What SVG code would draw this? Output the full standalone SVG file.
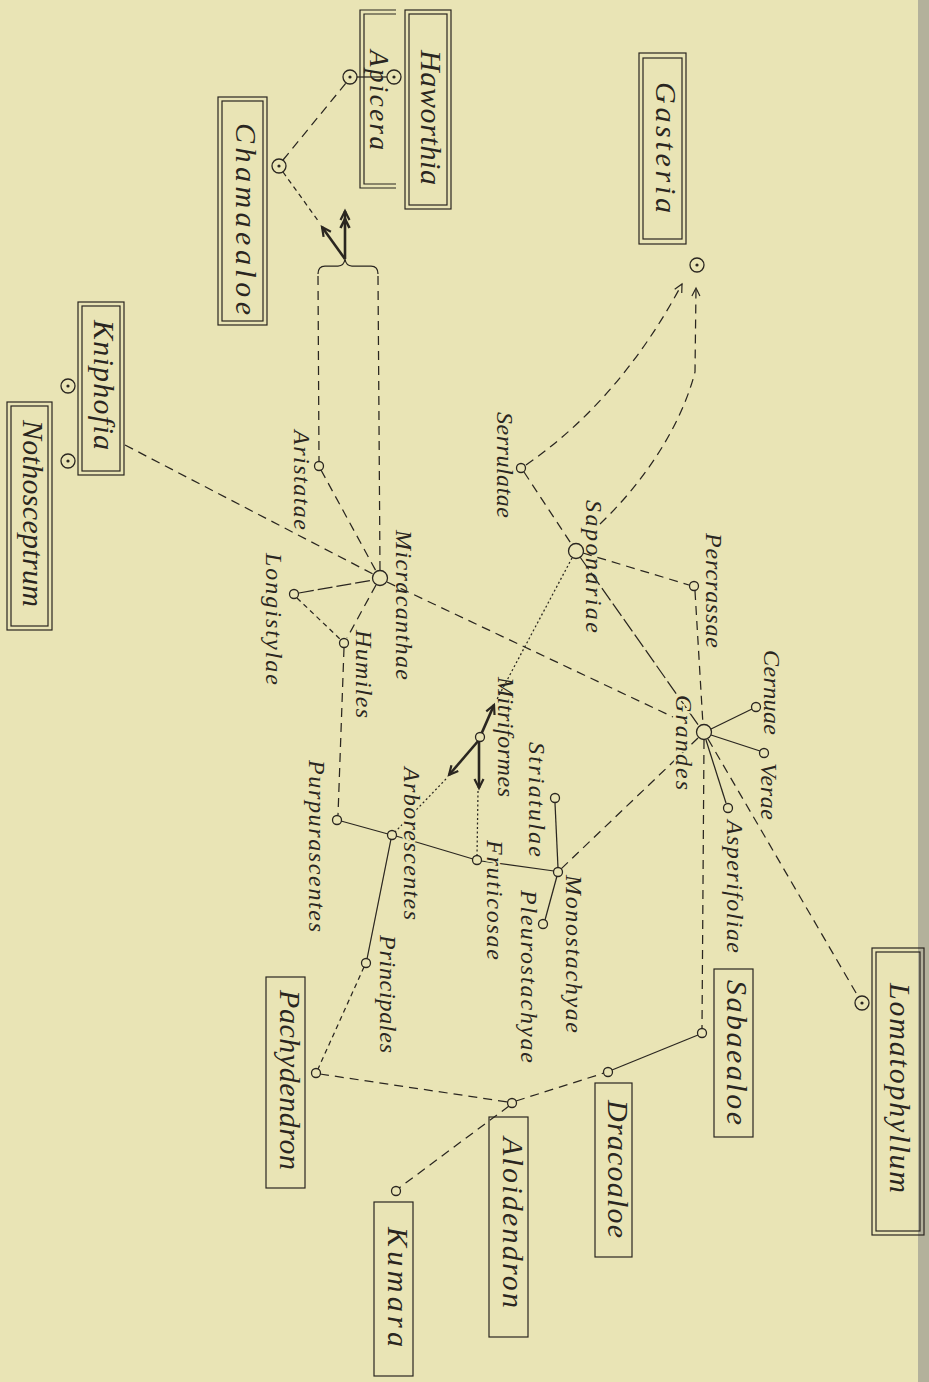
<svg xmlns="http://www.w3.org/2000/svg" width="929" height="1382" viewBox="0 0 929 1382">
<defs>
<style>
.bg{fill:#e9e4b5}
.ln{fill:none;stroke:#2a2620;stroke-width:1.25}
.d{stroke-dasharray:9 6}
.ds{stroke-dasharray:5 4}
.dl{stroke-dasharray:15 4}
.dt{stroke-dasharray:2 2.5}
.bold{fill:none;stroke:#2a2620;stroke-width:2.6}
.nc{fill:#e9e4b5;stroke:#2a2620;stroke-width:1.3}
.dot{fill:#2a2620}
.bx{fill:none;stroke:#2a2620;stroke-width:1.2}
.t{font-family:"Liberation Serif","Times New Roman",serif;font-style:italic;font-size:24px;fill:#2a2620}
.tb{font-family:"Liberation Serif","Times New Roman",serif;font-style:italic;font-size:30px;fill:#2a2620}
.halo{stroke:#e9e4b5;stroke-width:4;paint-order:stroke}
</style>
<marker id="ah" markerUnits="userSpaceOnUse" markerWidth="12" markerHeight="12" refX="9" refY="5" orient="auto"><path d="M1,1 L9,5 L1,9" fill="none" stroke="#2a2620" stroke-width="1.2"/></marker>
<marker id="ahb" markerUnits="userSpaceOnUse" markerWidth="14" markerHeight="14" refX="10" refY="6" orient="auto"><path d="M1,1.5 L10,6 L1,10.5" fill="none" stroke="#2a2620" stroke-width="2.2"/></marker>
</defs>
<rect class="bg" x="0" y="0" width="929" height="1382"/>
<rect x="918" y="0" width="11" height="1382" fill="#b3b19b"/>

<g id="connectors">
<path class="ln" d="M357,77 L387,77"/>
<path class="ln d" d="M283,160 L346,83"/>
<path class="ln ds" d="M283,172 L319,222"/>
<path class="bold" d="M345,259 L322,227" marker-end="url(#ahb)"/>
<path class="bold" d="M345,259 L345,211" marker-end="url(#ahb)"/>
<path class="bold" d="M340.5,228 L345,219 L349.5,228" stroke-width="2"/>
<path class="ln" d="M318,274 Q318,266 325,266 L338,266 Q344,266 345,259 Q346,266 352,266 L371,266 Q378,266 378,274"/>
<path class="ln d" d="M318,276 L319,461"/>
<path class="ln d" d="M378,276 L380,570"/>
<path class="ln d" d="M321,470 L376,571"/>
<path class="ln d" d="M125,445 L373,574"/>
<path class="ln dl" d="M299,593 L373,580"/>
<path class="ln d" d="M376,585 L347,638"/>
<path class="ln ds" d="M297,598 L341,640"/>
<path class="ln d" d="M344,648 L338,815"/>
<path class="ln d" d="M387,582 L673,717"/>
<path class="ln d" d="M524,472 L572,545"/>
<path class="ln d" d="M526,465 Q620,400 682,284" marker-end="url(#ah)"/>
<path class="ln d" d="M600,524 C640,486 680,430 695,372 L696,288" marker-end="url(#ah)"/>
<path class="ln d" d="M583,553 L689,585"/>
<path class="ln d" d="M695,591 L703,725"/>
<path class="ln dl" d="M580,557 L699,726"/>
<path class="ln" d="M711,729 L752,709"/>
<path class="ln" d="M711,735 L760,751"/>
<path class="ln" d="M706,740 L726,803"/>
<path class="ln d" d="M704,740 L702,1028"/>
<path class="ln d" d="M708,739 L859,998"/>
<path class="ln d" d="M698,738 L561,869"/>
<path class="ln dt" d="M572,558 L496,701"/>
<path class="bold" d="M480,737 L494,705" marker-end="url(#ahb)"/>
<path class="bold" d="M479,740 L449,775" marker-end="url(#ahb)"/>
<path class="ln dt" d="M446,779 L395,832"/>
<path class="bold" d="M479,741 L479,788" marker-end="url(#ahb)"/>
<path class="ln dt" d="M478,791 L477,856"/>
<path class="ln" d="M341,821 L388,834"/>
<path class="ln" d="M396,836 L473,859"/>
<path class="ln" d="M481,861 L554,871"/>
<path class="ln" d="M555,803 L558,868"/>
<path class="ln" d="M557,876 L545,920"/>
<path class="ln" d="M391,839 L367,959"/>
<path class="ln ds" d="M364,967 L318,1069"/>
<path class="ln d" d="M320,1074 L508,1102"/>
<path class="ln d" d="M516,1101 L604,1073"/>
<path class="ln" d="M612,1070 L698,1035"/>
<path class="ln d" d="M509,1106 L399,1188"/>
</g>

<g id="haworthia">
<rect class="bx" x="405" y="10" width="46" height="199"/>
<rect class="bx" x="409" y="14" width="38" height="191"/>
<text class="tb" transform="translate(421,50) rotate(90)" textLength="135">Haworthia</text>
<circle class="nc" cx="394" cy="77" r="7"/><circle class="dot" cx="394" cy="77" r="1.6"/>
</g>
<g id="apicera">
<path class="bx" d="M396,10 L360,10 L360,188 L396,188 M396,14 L364,14 L364,184 L396,184"/>
<text class="tb" style="font-size:27px" transform="translate(370,50) rotate(90)" textLength="100">Apicera</text>
<circle class="nc" cx="350" cy="77" r="7"/><circle class="dot" cx="350" cy="77" r="1.6"/>
</g>
<g id="chamaealoe">
<rect class="bx" x="218" y="97" width="49" height="228"/>
<rect class="bx" x="222" y="101" width="41" height="220"/>
<text class="tb" transform="translate(236,123) rotate(90)" textLength="192">Chamaealoe</text>
<circle class="nc" cx="279" cy="166" r="7"/><circle class="dot" cx="279" cy="166" r="1.6"/>
</g>
<g id="gasteria">
<rect class="bx" x="639" y="53" width="47" height="191"/>
<rect class="bx" x="643" y="58" width="39" height="181"/>
<text class="tb" transform="translate(656,82) rotate(90)" textLength="131">Gasteria</text>
<circle class="nc" cx="697" cy="265" r="7"/><circle class="dot" cx="697" cy="265" r="1.6"/>
</g>
<g id="kniphofia">
<rect class="bx" x="78" y="302" width="46" height="173"/>
<rect class="bx" x="82" y="306" width="38" height="165"/>
<text class="tb" transform="translate(94,320) rotate(90)" textLength="130">Kniphofia</text>
<circle class="nc" cx="68" cy="386" r="7"/><circle class="dot" cx="68" cy="386" r="1.6"/>
<circle class="nc" cx="68" cy="461" r="7"/><circle class="dot" cx="68" cy="461" r="1.6"/>
</g>
<g id="nothosceptrum">
<rect class="bx" x="7" y="402" width="45" height="228"/>
<rect class="bx" x="11" y="406" width="37" height="220"/>
<text class="tb" transform="translate(23,420) rotate(90)" textLength="187">Nothosceptrum</text>
</g>
<g id="lomatophyllum">
<rect class="bx" x="872" y="948" width="52" height="287"/>
<rect class="bx" x="876" y="952" width="44" height="279"/>
<text class="tb" transform="translate(890,983) rotate(90)" textLength="210">Lomatophyllum</text>
<circle class="nc" cx="862" cy="1003" r="7"/><circle class="dot" cx="862" cy="1003" r="1.6"/>
</g>
<g id="sabaealoe">
<rect class="bx" x="714" y="969" width="39" height="168"/>
<text class="tb" transform="translate(727,980) rotate(90)" textLength="145">Sabaealoe</text>
<circle class="nc" cx="702" cy="1033" r="4.5"/>
</g>
<g id="dracoaloe">
<rect class="bx" x="595" y="1083" width="37" height="174"/>
<text class="tb" transform="translate(608,1100) rotate(90)" textLength="138">Dracoaloe</text>
<circle class="nc" cx="608" cy="1072" r="4.5"/>
</g>
<g id="aloidendron">
<rect class="bx" x="489" y="1117" width="39" height="220"/>
<text class="tb" transform="translate(503,1137) rotate(90)" textLength="171">Aloidendron</text>
<circle class="nc" cx="512" cy="1103" r="4.5"/>
</g>
<g id="kumara">
<rect class="bx" x="374" y="1202" width="39" height="174"/>
<text class="tb" transform="translate(388,1227) rotate(90)" textLength="120">Kumara</text>
<circle class="nc" cx="396" cy="1191" r="4.5"/>
</g>
<g id="pachydendron">
<rect class="bx" x="266" y="977" width="39" height="211"/>
<text class="tb" transform="translate(280,990) rotate(90)" textLength="180">Pachydendron</text>
<circle class="nc" cx="316" cy="1073" r="4.5"/>
</g>

<g id="micracanthae"><circle class="nc" cx="380" cy="578" r="7.5"/><text class="t" transform="translate(396,530) rotate(90)" textLength="150">Micracanthae</text></g>
<g id="aristatae"><circle class="nc" cx="319" cy="466" r="4.5"/><text class="t" transform="translate(294,430) rotate(90)" textLength="100">Aristatae</text></g>
<g id="longistylae"><circle class="nc" cx="294" cy="594" r="4.5"/><text class="t" transform="translate(266,553) rotate(90)" textLength="132">Longistylae</text></g>
<g id="humiles"><circle class="nc" cx="344" cy="643" r="4.5"/><text class="t" transform="translate(356,630) rotate(90)" textLength="88">Humiles</text></g>
<g id="purpurascentes"><circle class="nc" cx="337" cy="820" r="4.5"/><text class="t" transform="translate(309,760) rotate(90)" textLength="172">Purpurascentes</text></g>
<g id="serrulatae"><circle class="nc" cx="521" cy="468" r="4.5"/><text class="t" transform="translate(497,412) rotate(90)" textLength="106">Serrulatae</text></g>
<g id="saponariae"><circle class="nc" cx="576" cy="551" r="7.5"/><text class="t" transform="translate(586,500) rotate(90)" textLength="133">Saponariae</text></g>
<g id="percrassae"><circle class="nc" cx="694" cy="586" r="4.5"/><text class="t" transform="translate(706,533) rotate(90)" textLength="115">Percrassae</text></g>
<g id="grandes"><text class="t halo" transform="translate(676,695) rotate(90)" textLength="95">Grandes</text><circle class="nc" cx="704" cy="732" r="7.5"/></g>
<g id="cernuae"><circle class="nc" cx="756" cy="707" r="4.5"/><text class="t" transform="translate(764,650) rotate(90)" textLength="85">Cernuae</text></g>
<g id="verae"><circle class="nc" cx="764" cy="753" r="4.5"/><text class="t" transform="translate(761,763) rotate(90)" textLength="57">Verae</text></g>
<g id="asperifoliae"><circle class="nc" cx="728" cy="808" r="4.5"/><text class="t" transform="translate(727,820) rotate(90)" textLength="133">Asperifoliae</text></g>
<g id="mitriformes"><circle class="nc" cx="480" cy="737" r="4.5"/><text class="t" transform="translate(498,677) rotate(90)" textLength="120">Mitriformes</text></g>
<g id="striatulae"><circle class="nc" cx="555" cy="798" r="4.5"/><text class="t" transform="translate(529,742) rotate(90)" textLength="115">Striatulae</text></g>
<g id="arborescentes"><circle class="nc" cx="392" cy="835" r="4.5"/><text class="t halo" transform="translate(404,767) rotate(90)" textLength="153">Arborescentes</text></g>
<g id="fruticosae"><circle class="nc" cx="477" cy="860" r="4.5"/><text class="t halo" transform="translate(487,840) rotate(90)" textLength="120">Fruticosae</text></g>
<g id="monostachyae"><circle class="nc" cx="558" cy="872" r="4.5"/><text class="t" transform="translate(566,875) rotate(90)" textLength="158">Monostachyae</text></g>
<g id="pleurostachyae"><circle class="nc" cx="543" cy="924" r="4.5"/><text class="t" transform="translate(521,890) rotate(90)" textLength="173">Pleurostachyae</text></g>
<g id="principales"><circle class="nc" cx="366" cy="963" r="4.5"/><text class="t" transform="translate(380,935) rotate(90)" textLength="118">Principales</text></g>
</svg>
